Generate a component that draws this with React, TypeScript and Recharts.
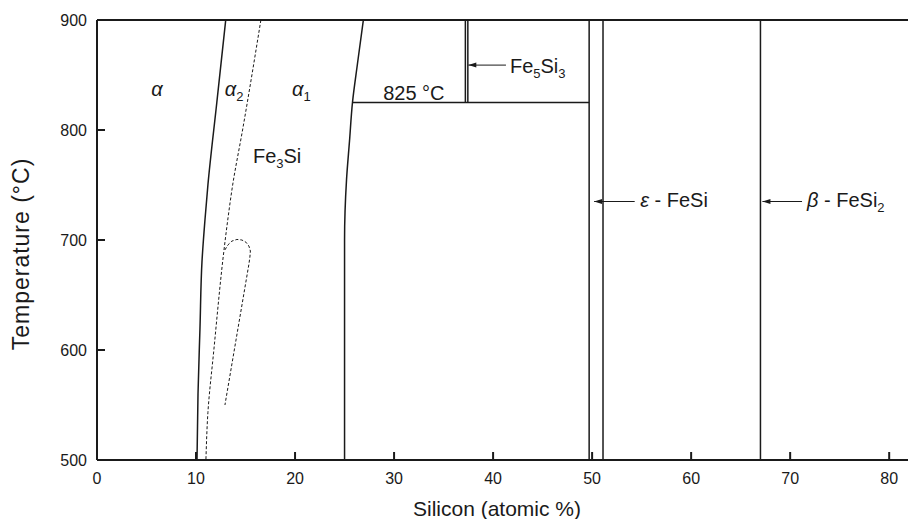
import React from 'react'
import {
  LineChart,
  Line,
  XAxis,
  YAxis,
  ReferenceLine,
  ReferenceDot,
  Label,
} from 'recharts'

// Fe-Si phase diagram (500-900 °C)

const xTicks = [0, 10, 20, 30, 40, 50, 60, 70, 80]
const yTicks = [500, 600, 700, 800, 900]

// phase boundaries: x = Si at.%, t = temperature °C
const alphaBoundary = [
  { x: 13.0, t: 900 },
  { x: 12.1, t: 825 },
  { x: 11.2, t: 750 },
  { x: 10.9, t: 718 },
  { x: 10.6, t: 680 },
  { x: 10.4, t: 620 },
  { x: 10.2, t: 560 },
  { x: 10.1, t: 500 },
]

const orderBoundary = [
  { x: 16.55, t: 900 },
  { x: 14.7, t: 800 },
  { x: 13.7, t: 750 },
  { x: 13.2, t: 718 },
  { x: 12.8, t: 689 },
  { x: 11.8, t: 600 },
  { x: 11.2, t: 543 },
  { x: 11.0, t: 500 },
]

const orderLoop = [
  { x: 12.92, t: 691 },
  { x: 13.22, t: 695.5 },
  { x: 13.62, t: 699 },
  { x: 14.13, t: 700.5 },
  { x: 14.63, t: 700 },
  { x: 15.04, t: 698 },
  { x: 15.34, t: 694.5 },
  { x: 15.49, t: 690 },
  { x: 15.44, t: 684.5 },
  { x: 15.34, t: 678 },
  { x: 12.92, t: 550 },
]

const fe3siBoundary = [
  { x: 26.9, t: 900 },
  { x: 26.3, t: 860 },
  { x: 25.8, t: 825 },
  { x: 25.5, t: 790 },
  { x: 25.2, t: 755 },
  { x: 25.0, t: 700 },
  { x: 25.0, t: 500 },
]

const isotherm825 = [
  { x: 25.8, t: 825 },
  { x: 49.7, t: 825 },
]
const fe5si3Left = [
  { x: 37.2, t: 825 },
  { x: 37.2, t: 900 },
]
const fe5si3Right = [
  { x: 37.45, t: 825 },
  { x: 37.45, t: 900 },
]
const fesiLeft = [
  { x: 49.7, t: 500 },
  { x: 49.7, t: 900 },
]
const fesiRight = [
  { x: 51.1, t: 500 },
  { x: 51.1, t: 900 },
]
const fesi2Line = [
  { x: 67.0, t: 500 },
  { x: 67.0, t: 900 },
]

// arrows: first point is the tip
const fe5si3Arrow = [
  { x: 37.5, t: 859 },
  { x: 41.3, t: 859 },
]
const fesiArrow = [
  { x: 50.2, t: 735 },
  { x: 54.3, t: 735 },
]
const fesi2Arrow = [
  { x: 67.2, t: 735 },
  { x: 71.2, t: 735 },
]

// text labels
const phaseLabels = [
  { id: 'a', x: 6.06, t: 831 },
  { id: 'a2', x: 12.9, t: 831 },
  { id: 'a1', x: 19.7, t: 831 },
  { id: 'fe3si', x: 15.75, t: 770 },
  { id: 'iso', x: 28.9, t: 827 },
  { id: 'fe5si3', x: 41.7, t: 852 },
  { id: 'fesi', x: 54.85, t: 730 },
  { id: 'fesi2', x: 71.7, t: 730 },
]

const FONT = '"Liberation Sans", Arial, Helvetica, sans-serif'
const INK = '#1a1a1a'
const PLOT_LEFT = 97
const PLOT_BOTTOM = 460

const labelText = (id: string) => {
  switch (id) {
    case 'a':
      return <tspan fontStyle="italic">α</tspan>
    case 'a2':
      return (
        <>
          <tspan fontStyle="italic">α</tspan>
          <tspan dy={5} fontSize={13}>2</tspan>
        </>
      )
    case 'a1':
      return (
        <>
          <tspan fontStyle="italic">α</tspan>
          <tspan dy={5} fontSize={13}>1</tspan>
        </>
      )
    case 'fe3si':
      return (
        <>
          Fe<tspan dy={5} fontSize={13}>3</tspan>
          <tspan dy={-5}>Si</tspan>
        </>
      )
    case 'iso':
      return '825 °C'
    case 'fe5si3':
      return (
        <>
          Fe<tspan dy={5} fontSize={13}>5</tspan>
          <tspan dy={-5}>Si</tspan>
          <tspan dy={5} fontSize={13}>3</tspan>
        </>
      )
    case 'fesi':
      return (
        <>
          <tspan fontStyle="italic">ε</tspan> - FeSi
        </>
      )
    case 'fesi2':
      return (
        <>
          <tspan fontStyle="italic">β</tspan> - FeSi
          <tspan dy={5} fontSize={13}>2</tspan>
        </>
      )
    default:
      return ''
  }
}

const arrowHead = (props: any) => {
  const { cx, cy, index } = props
  if (index !== 0) return <g key={`n-${index}`} />
  return <path key="head" d={`M${cx},${cy} l8,-2.5 l0,5 z`} fill={INK} />
}

// inward ticks, drawn from the plot frame
const XTick = (props: any) => {
  const { x, payload } = props
  return (
    <g>
      <line x1={x} y1={PLOT_BOTTOM} x2={x} y2={PLOT_BOTTOM - 8} stroke={INK} strokeWidth={2} />
      <text x={x} y={PLOT_BOTTOM + 24} textAnchor="middle" fontSize={16} fontFamily={FONT} fill={INK}>
        {payload.value}
      </text>
    </g>
  )
}

const YTick = (props: any) => {
  const { y, payload } = props
  return (
    <g>
      <line x1={PLOT_LEFT} y1={y} x2={PLOT_LEFT + 8} y2={y} stroke={INK} strokeWidth={2} />
      <text x={PLOT_LEFT - 10} y={y + 6} textAnchor="end" fontSize={16} fontFamily={FONT} fill={INK}>
        {payload.value}
      </text>
    </g>
  )
}

const solid = { stroke: INK, strokeWidth: 1.5 }
const dashed = { stroke: INK, strokeWidth: 1, strokeDasharray: '3 2' }

const curves = [
  { key: 'alpha', data: alphaBoundary, style: solid, type: 'monotoneY' },
  { key: 'order', data: orderBoundary, style: dashed, type: 'monotoneY' },
  { key: 'loop', data: orderLoop, style: dashed, type: 'linear' },
  { key: 'fe3si', data: fe3siBoundary, style: solid, type: 'monotoneY' },
  { key: 'iso', data: isotherm825, style: solid, type: 'linear' },
  { key: 'fe5si3L', data: fe5si3Left, style: solid, type: 'linear' },
  { key: 'fe5si3R', data: fe5si3Right, style: solid, type: 'linear' },
  { key: 'fesiL', data: fesiLeft, style: solid, type: 'linear' },
  { key: 'fesiR', data: fesiRight, style: solid, type: 'linear' },
  { key: 'fesi2', data: fesi2Line, style: solid, type: 'linear' },
]

const arrows = [fe5si3Arrow, fesiArrow, fesi2Arrow]

export default function App() {
  return (
    <div
      style={{
        position: 'absolute',
        left: 0,
        top: 0,
        width: 908,
        height: 519,
        background: '#fff',
        overflow: 'hidden',
      }}
    >
      <LineChart width={908} height={519} margin={{ top: 20, right: 0, bottom: 0, left: 0 }}>
        <XAxis
          dataKey="x"
          type="number"
          domain={[0, 81.9]}
          ticks={xTicks}
          allowDataOverflow
          height={59}
          axisLine={{ stroke: INK, strokeWidth: 2 }}
          tickLine={false}
          tick={<XTick />}
        >
          <Label
            content={() => (
              <text x={497} y={516} textAnchor="middle" fontSize={21} fontFamily={FONT} fill={INK}>
                Silicon (atomic %)
              </text>
            )}
          />
        </XAxis>
        <YAxis
          dataKey="t"
          type="number"
          domain={[500, 900]}
          ticks={yTicks}
          allowDataOverflow
          width={97}
          axisLine={{ stroke: INK, strokeWidth: 2 }}
          tickLine={false}
          tick={<YTick />}
        >
          <Label
            content={() => (
              <text
                x={29}
                y={254}
                textAnchor="middle"
                fontSize={23}
                letterSpacing={1}
                fontFamily={FONT}
                fill={INK}
                transform="rotate(-90 29 254)"
              >
                Temperature (°C)
              </text>
            )}
          />
        </YAxis>

        <ReferenceLine y={900} stroke={INK} strokeWidth={2} />

        {curves.map((c) => (
          <Line
            key={c.key}
            data={c.data}
            dataKey="t"
            type={c.type as any}
            dot={false}
            activeDot={false}
            isAnimationActive={false}
            {...c.style}
          />
        ))}

        {arrows.map((a, i) => (
          <Line
            key={`arrow-${i}`}
            data={a}
            dataKey="t"
            type="linear"
            stroke={INK}
            strokeWidth={1}
            dot={arrowHead}
            activeDot={false}
            isAnimationActive={false}
          />
        ))}

        {phaseLabels.map((l) => (
          <ReferenceDot
            key={l.id}
            x={l.x}
            y={l.t}
            r={0}
            ifOverflow="visible"
            shape={(p: any) => (
              <text
                x={p.cx}
                y={p.cy}
                textAnchor={l.id === 'a' ? 'middle' : 'start'}
                fontSize={20}
                fontFamily={FONT}
                fill={INK}
              >
                {labelText(l.id)}
              </text>
            )}
          />
        ))}
      </LineChart>
    </div>
  )
}
